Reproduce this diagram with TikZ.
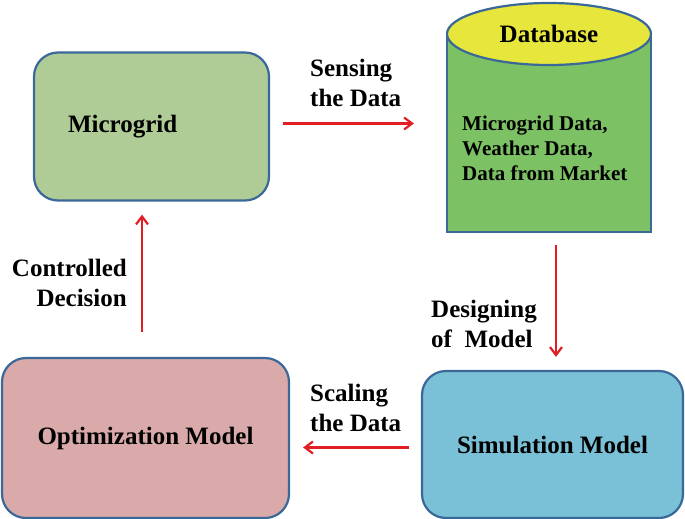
\documentclass[tikz,border=0pt]{standalone}
\usepackage{fontspec}
\setmainfont{Liberation Serif}[BoldFont={Liberation Serif Bold}]
\newfontfamily\timesfont{Liberation Serif}[BoldFont={Liberation Serif Bold}]
\usetikzlibrary{arrows.meta,shapes.geometric}

\definecolor{edgeblue}{RGB}{58,104,152}
\definecolor{mgfill}{RGB}{175,203,150}
\definecolor{dbfill}{RGB}{124,193,100}
\definecolor{dbtopfill}{RGB}{230,230,60}
\definecolor{simfill}{RGB}{122,192,214}
\definecolor{optfill}{RGB}{218,170,170}
\definecolor{flowred}{RGB}{225,30,35}

\tikzset{
  boxnode/.style={draw=edgeblue, line width=2.2pt, rounded corners=24pt,
    font=\timesfont\fontsize{25}{30}\selectfont\bfseries},
  flow/.style={draw=flowred, line width=2.2pt,
    -{Straight Barb[length=8pt,width=12pt]}},
  flowlabel/.style={font=\timesfont\fontsize{25}{30}\selectfont\bfseries, inner sep=0pt}
}

\begin{document}
\begin{tikzpicture}[x=1pt,y=-1pt]
   \useasboundingbox (0,0) rectangle (685,519);

   % boxes
   \node[boxnode, fill=mgfill, minimum width=235pt, minimum height=148pt,
     text width=167pt, inner xsep=34pt, align=left] (mg) at (151.5,126.5) {Microgrid};
   \node[boxnode, fill=optfill, minimum width=287pt, minimum height=160pt]
     (opt) at (145.5,438) {Optimization Model};
   \node[boxnode, fill=simfill, minimum width=261pt, minimum height=147pt]
     (sim) at (552.5,444.5) {Simulation Model};

   % database
   \node[draw=edgeblue, line width=2.2pt, fill=dbfill, minimum width=204pt,
     minimum height=198pt] (db) at (549,133) {};
   \node[draw=edgeblue, line width=2.2pt, fill=dbtopfill, ellipse, inner sep=0pt,
     minimum width=204pt, minimum height=62pt,
     font=\timesfont\fontsize{25}{30}\selectfont\bfseries]
     (dbtop) at (549,34) {Database};
   \node[anchor=west, align=left, inner sep=0pt,
     font=\timesfont\fontsize{21}{25}\selectfont\bfseries] (dbtext) at (462,148)
     {Microgrid Data,\\Weather Data,\\Data from Market};

   % arrows
   \draw[flow, shorten <=13pt, shorten >=32pt]
     ([yshift=3pt]mg.east) -- ([yshift=3pt]mg.east -| db.west);
   \draw[flow, shorten <=12pt, shorten >=13pt]
     ([xshift=7pt]db.south) -- ([xshift=7pt]db.south |- sim.north);
   \draw[flow, shorten <=12pt, shorten >=13pt]
     ([yshift=-3pt]sim.west) -- ([yshift=-3pt]sim.west -| opt.east);
   \draw[flow, shorten <=25pt, shorten >=13pt]
     ([xshift=-3.5pt]opt.north) -- ([xshift=-3.5pt]opt.north |- mg.south);

   % labels
   \node[flowlabel, anchor=west, align=left] (sense) at (310,83) {Sensing\\the Data};
   \node[flowlabel, anchor=west, align=left] (design) at (431,324) {Designing\\of\ \ Model};
   \node[flowlabel, anchor=west, align=left] (scale) at (310,408) {Scaling\\the Data};
   \node[flowlabel, anchor=east, align=right] (decide) at (127,283) {Controlled\\Decision};

 \end{tikzpicture}
\end{document}
